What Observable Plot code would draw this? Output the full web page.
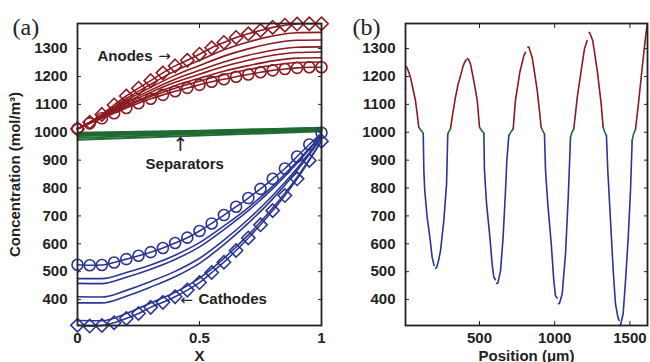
<!DOCTYPE html>
<html><head><meta charset="utf-8">
<script src="https://cdn.jsdelivr.net/npm/d3@7"></script>
<script src="https://cdn.jsdelivr.net/npm/@observablehq/plot@0.6"></script>
<style>
html,body{margin:0;padding:0;background:#fff;}
#wrap{position:relative;width:650px;height:362px;overflow:hidden;background:#fff;}
#wrap svg{position:absolute;top:0;}
</style></head><body>
<div id="wrap"></div>
<script>
// ---------- data: panel (a) ----------
const xFine = [0,0.05,0.1,0.15,0.2,0.25,0.3,0.35,0.4,0.45,0.5,0.55,0.6,0.65,0.7,0.75,0.8,0.85,0.9,0.95,1];
const xCoarse = [0,0.1,0.2,0.3,0.4,0.5,0.6,0.7,0.8,0.9,1];
const anodeDiamond = [1012,1036,1064,1098,1130,1158,1185,1213,1238,1258,1280,1303,1322,1340,1353,1365,1376,1384,1388,1389,1389];
const anodeCircle = [1012,1032,1050,1068,1087,1104,1120,1134,1147,1159,1170,1181,1190,1199,1207,1215,1222,1227,1231,1233,1233];
const anodeLines = [
  [1012,1061,1121,1172,1220,1258,1296,1324,1345,1357,1358],
  [1012,1059,1114,1161,1204,1239,1273,1299,1319,1330,1331],
  [1012,1057,1107,1151,1190,1222,1252,1276,1294,1305,1306],
  [1012,1055,1102,1143,1179,1208,1236,1258,1276,1286,1288],
  [1012,1053,1096,1134,1167,1194,1219,1239,1256,1266,1267],
  [1012,1052,1092,1128,1158,1183,1206,1225,1240,1250,1252]
];
const cathodeCircle = [525,523,524,533,545,557,570,585,603,622,646,673,703,733,764,797,833,870,913,956,998];
const cathodeDiamond = [308,305,307,317,332,350,372,390,410,434,461,497,534,576,621,668,719,773,833,899,968];
const cathodeLines = [
  [475,475,497,524,559,604,664,730,807,895,991],
  [458,457,480,509,544,589,651,719,798,889,989],
  [410,409,433,465,501,548,613,688,773,871,982],
  [388,388,412,445,482,530,597,674,761,863,979],
  [325,324,350,388,426,477,548,632,728,839,970]
];
const sepX = [0,0.5,1];
const sepLines = [
  [998,1006,1016],[995,1004,1015],[992,1002,1013],[989,1000,1012],
  [986,998,1010],[980,994,1007],[973,988,1003]
];
// ---------- data: panel (b) ----------
const anodeTrace = [
  [[15,1235],[25,1222],[41,1197],[58,1155],[74,1114],[86,1065],[96,1018]],
  [[307,1012],[320,1060],[340,1125],[357,1170],[374,1203],[392,1239],[405,1255],[412,1260]],
  [[420,1265],[430,1258],[440,1245],[462,1185],[485,1114],[500,1018]],
  [[724,1012],[739,1114],[768,1215],[795,1275],[806,1287]],
  [[822,1305],[828,1306],[850,1269],[867,1210],[884,1149],[898,1080],[910,1018]],
  [[1127,1012],[1150,1125],[1176,1221],[1198,1299],[1216,1329]],
  [[1228,1358],[1233,1356],[1253,1329],[1283,1221],[1309,1102],[1322,1018]],
  [[1537,1009],[1559,1114],[1582,1233],[1604,1341],[1615,1388]]
];
const sepTrace = [
  [[96,1018],[110,1008],[126,996]],
  [[289,994],[298,1004],[307,1012]],
  [[500,1018],[515,1006],[529,996]],
  [[695,988],[710,1002],[724,1012]],
  [[910,1018],[920,1006],[932,994]],
  [[1105,982],[1115,1000],[1127,1012]],
  [[1322,1018],[1333,1000],[1344,988]],
  [[1515,970],[1525,995],[1537,1009]]
];
const cathodeTrace = [
  [[126,996],[130,863],[136,791],[152,695],[170,624],[185,552],[198,522]],
  [[208,512],[214,514],[228,540],[241,576],[252,630],[263,684],[281,815],[289,994]],
  [[529,996],[533,863],[547,743],[569,624],[584,528],[595,481],[606,471]],
  [[614,458],[622,459],[640,504],[657,624],[673,791],[682,900],[695,988]],
  [[932,994],[939,863],[954,743],[977,600],[994,468],[1005,414],[1016,405]],
  [[1026,385],[1032,387],[1050,421],[1072,564],[1090,767],[1098,880],[1105,982]],
  [[1344,988],[1353,863],[1371,684],[1389,504],[1404,385],[1420,337],[1428,325]],
  [[1432,308],[1437,307],[1455,349],[1471,468],[1489,624],[1504,791],[1515,970]]
];
const yTicks = [400,500,600,700,800,900,1000,1100,1200,1300];
const xTicksA = [0,0.5,1];
const xTicksB = [500,1000,1500];

// ---------- styling ----------
const RED = "#8a1b20", BLUE = "#2b3592", GREEN = "#1f6b33", INK = "#222";
const yDomain = [307, 1390];
const baseStyle = {fontFamily: "'Liberation Sans', Arial, Helvetica, sans-serif", fontSize: "15px", fontWeight: "bold", color: INK, background: "transparent", overflow: "visible"};
const SERIF = "'Liberation Serif', 'Times New Roman', serif";

function rows(xs, ys, id) { return xs.map((x, i) => ({x, y: ys[i], id})); }
function traceRows(trace, tag) {
  const out = [];
  trace.forEach((seg, k) => seg.forEach(([x, y]) => out.push({x, y, id: tag + k})));
  return out;
}
function frameAxes(xTicks) {
  const fmt = d => String(d);
  return [
    Plot.frame({stroke: INK, strokeWidth: 1.8}),
    Plot.axisY(yTicks, {anchor: "left", tickSize: -4, tickPadding: 14, tickFormat: fmt, label: null, stroke: INK}),
    Plot.axisY(yTicks, {anchor: "right", tickSize: -4, tickFormat: () => "", label: null, stroke: INK}),
    Plot.axisX(xTicks, {anchor: "bottom", tickSize: -4, tickPadding: 11, tickFormat: fmt, label: null, stroke: INK}),
    Plot.axisX(xTicks, {anchor: "top", tickSize: -4, tickFormat: () => "", label: null, stroke: INK})
  ];
}
const note = (x, y, t, anchor) =>
  Plot.text([{x, y, t}], {x: "x", y: "y", text: "t", textAnchor: anchor, fill: INK, fontSize: 15, fontWeight: "bold"});
const arrow = (x, y, t, size = 15) =>
  Plot.text([{x, y, t}], {x: "x", y: "y", text: "t", textAnchor: "middle", fill: INK, fontSize: size, fontWeight: "normal", fontFamily: "'DejaVu Sans', sans-serif"});

// ---------- panel (a) ----------
const anodeLineRows = anodeLines.flatMap((ys, k) => rows(xCoarse, ys, "a" + k));
const cathodeLineRows = cathodeLines.flatMap((ys, k) => rows(xCoarse, ys, "c" + k));
const sepRows = sepLines.flatMap((ys, k) => rows(sepX, ys, "s" + k));
const aD = rows(xFine, anodeDiamond, "aD"), aC = rows(xFine, anodeCircle, "aC");
const cD = rows(xFine, cathodeDiamond, "cD"), cC = rows(xFine, cathodeCircle, "cC");

const lineOpts = (stroke) => ({x: "x", y: "y", z: "id", stroke, strokeWidth: 1.6, curve: "monotone-x"});
const panelA = Plot.plot({
  width: 330, height: 362, marginLeft: 77, marginRight: 9, marginTop: 23, marginBottom: 37,
  style: baseStyle,
  x: {domain: [0, 1]},
  y: {domain: yDomain},
  marks: [
    Plot.line(sepRows, {x: "x", y: "y", z: "id", stroke: GREEN, strokeWidth: 1.9}),
    Plot.line(anodeLineRows, lineOpts(RED)),
    Plot.line(aD, lineOpts(RED)),
    Plot.line(aC, lineOpts(RED)),
    Plot.dot(aD, {x: "x", y: "y", symbol: "diamond2", r: 6, stroke: RED, strokeWidth: 1.6, fill: "none"}),
    Plot.dot(aC, {x: "x", y: "y", symbol: "circle", r: 5.5, stroke: RED, strokeWidth: 1.6, fill: "none"}),
    Plot.line(cathodeLineRows, lineOpts(BLUE)),
    Plot.line(cD, lineOpts(BLUE)),
    Plot.line(cC, lineOpts(BLUE)),
    Plot.dot(cD, {x: "x", y: "y", symbol: "diamond2", r: 6, stroke: BLUE, strokeWidth: 1.6, fill: "none"}),
    Plot.dot(cC, {x: "x", y: "y", symbol: "circle", r: 5.5, stroke: BLUE, strokeWidth: 1.6, fill: "none"}),
    note(0.082, 1271, "Anodes", "start"),
    arrow(0.357, 1271, "→"),
    note(0.279, 885, "Separators", "start"),
    arrow(0.422, 955, "↑", 19),
    arrow(0.447, 398, "←"),
    note(0.496, 400, "Cathodes", "start"),
    ...frameAxes(xTicksA),
    Plot.text(["X"], {text: d => d, frameAnchor: "bottom", dy: 35, fill: INK, fontSize: 15, fontWeight: "bold"}),
    Plot.text(["Concentration (mol/m³)"], {text: d => d, frameAnchor: "left", textAnchor: "middle", rotate: -90, dx: -62, fill: INK, fontSize: 15, fontWeight: "bold"}),
    Plot.text(["(a)"], {text: d => d, frameAnchor: "top-left", textAnchor: "start", lineAnchor: "bottom", dx: -65, dy: 11, fill: INK, fontSize: 24, fontWeight: "normal", fontFamily: SERIF})
  ]
});
panelA.style.left = "0px";

// ---------- panel (b) ----------
const traceOpts = (stroke) => ({x: "x", y: "y", z: "id", stroke, strokeWidth: 1.6, curve: "linear"});
const panelB = Plot.plot({
  width: 320, height: 362, marginLeft: 75, marginRight: 3, marginTop: 23, marginBottom: 37,
  style: baseStyle,
  x: {domain: [8, 1617]},
  y: {domain: yDomain},
  marks: [
    Plot.line(traceRows(anodeTrace, "a"), traceOpts(RED)),
    Plot.line(traceRows(cathodeTrace, "c"), traceOpts(BLUE)),
    Plot.line(traceRows(sepTrace, "s"), traceOpts(GREEN)),
    ...frameAxes(xTicksB),
    Plot.text(["Position (μm)"], {text: d => d, frameAnchor: "bottom", dy: 35, fill: INK, fontSize: 15, fontWeight: "bold"}),
    Plot.text(["(b)"], {text: d => d, frameAnchor: "top-left", textAnchor: "start", lineAnchor: "bottom", dx: -53, dy: 11, fill: INK, fontSize: 24, fontWeight: "normal", fontFamily: SERIF})
  ]
});
panelB.style.left = "330px";

document.getElementById("wrap").append(panelA, panelB);
</script></body></html>
